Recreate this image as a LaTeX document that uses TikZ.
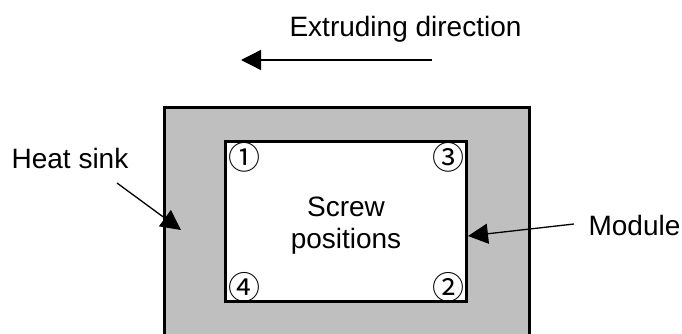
\documentclass[tikz,border=0pt]{standalone}
\usepackage{fontspec}
\setmainfont{Liberation Sans}
\newfontfamily\circfont{Noto Sans CJK JP}
\usetikzlibrary{arrows.meta}
\tikzset{
  x=1pt,y=-1pt,
  lbl/.style={inner sep=0pt,font=\fontsize{28}{32}\selectfont,text=black},
  num/.style={inner sep=0pt,font=\circfont\fontsize{32}{32}\selectfont,text=black},
  edge/.style={line width=3pt,draw=black},
  ptr/.style={line width=1.3pt,draw=black,-{Triangle[length=20pt,width=20pt]},shorten >=0pt},
}
\begin{document}
\begin{tikzpicture}
\useasboundingbox (0,0) rectangle (682,334);
\fill[white] (0,0) rectangle (682,334);
\fill[black!25] (164,108) rectangle (529,334);
\draw[edge,line cap=butt] (164,334) -- (164,108) -- (529,108) -- (529,334);
\node[edge,fill=white,inner sep=0pt,rectangle] (module) at (346,221.5) {\tikz\path[use as bounding box] (0,0) rectangle (241,160);};
\node[lbl] (ext) at (405.5,29.5) {Extruding direction};
\node[lbl] (hs) at (70,158.5) {Heat sink};
\node[lbl] (mod) at (634.5,225) {Module};
\node[lbl,align=center] (sp) at (346,226) {Screw\\positions};
\node[num] (n1) at (244.5,157) {①};
\node[num] (n3) at (448,157) {③};
\node[num] (n4) at (244.5,287) {④};
\node[num] (n2) at (448,287) {②};
\coordinate (a1s) at (432,60);
\coordinate (a1e) at (241,60);
\coordinate (a2s) at (117,183);
\coordinate (a2e) at (181,230);
\coordinate (a3s) at (574,224);
\coordinate (a3e) at (468,236);
\draw[ptr] (a1s) -- (a1e);
\draw[ptr] (a2s) -- (a2e);
\draw[ptr] (a3s) -- (a3e);
\end{tikzpicture}
\end{document}
